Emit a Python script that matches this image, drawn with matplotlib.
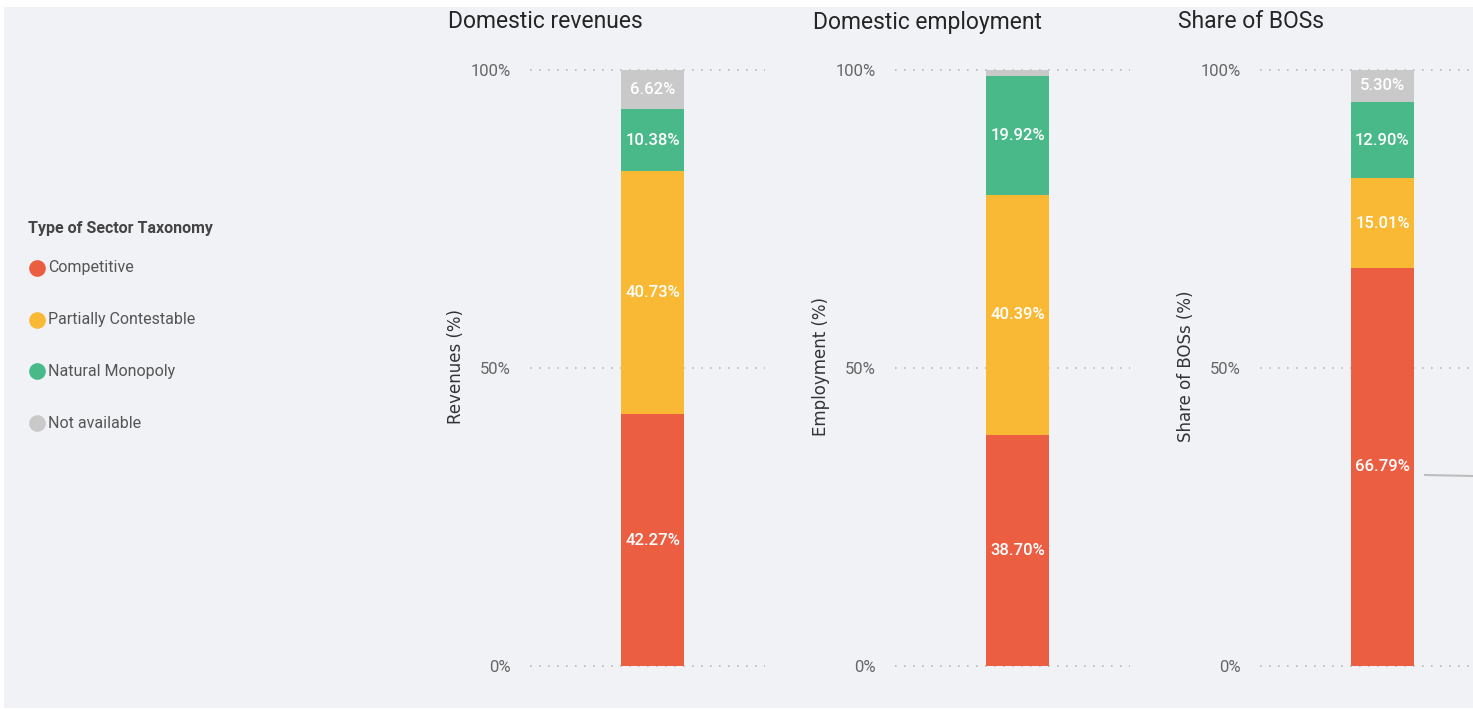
import numpy as np
import matplotlib.pyplot as plt
from matplotlib.patches import Rectangle

# categories of the sector taxonomy (bottom to top in each bar)
categories = ['Competitive', 'Partially Contestable', 'Natural Monopoly', 'Not available']
colors = ['#EB5E42', '#F9B935', '#4AB98A', '#C9C9C9']

# shares (%) per indicator
revenues = [42.27, 40.73, 10.38, 6.62]
employment = [38.70, 40.39, 19.92, 0.99]
bos_share = [66.79, 15.01, 12.90, 5.30]

panel_titles = ['Domestic revenues', 'Domestic employment', 'Share of BOSs']
y_labels = ['Revenues (%)', 'Employment (%)', 'Share of BOSs (%)']
tick_labels = ['0%', '50%', '100%']

cond = ['Roboto', 'DejaVu Sans']
bg = '#F0F2F6'

W, H = 1473, 710
fig = plt.figure(figsize=(W / 100, H / 100), dpi=100, facecolor='white')
fig.patches.append(Rectangle((4 / W, 2 / H), 1 - 4 / W, (H - 9) / H,
                             transform=fig.transFigure, facecolor=bg,
                             edgecolor='none', zorder=-10))

def px(x0, y0, w, h):
    # pixel box (top-left origin) -> figure fraction
    return [x0 / W, 1 - (y0 + h) / H, w / W, h / H]

lefts = [530, 895, 1260]
data = [revenues, employment, bos_share]

for left, vals, title, ylab in zip(lefts, data, panel_titles, y_labels):
    ax = fig.add_axes(px(left, 70, 235, 596))
    ax.set_facecolor('none')
    ax.set_xlim(0, 1)
    ax.set_ylim(0, 100)
    for s in ax.spines.values():
        s.set_visible(False)
    for gy in [0, 50, 100]:
        ax.axhline(gy, color='#B8B8B8', lw=1.2, ls=(0, (1, 4.4)), zorder=0,
                   clip_on=False)
    ax.set_yticks([0, 50, 100])
    ax.set_yticklabels(tick_labels, family=cond, fontsize=12, color='#666666')
    ax.tick_params(axis='y', length=0, pad=14)
    ax.set_xticks([])

    bottom = 0
    xc = 122.5 / 235
    for v, c in zip(vals, colors):
        ax.bar(xc, v, width=63 / 235, bottom=bottom, color=c, zorder=2)
        if v > 3:
            ax.text(xc, bottom + v / 2, f'{v:.2f}%', ha='center', va='center',
                    color='white', fontsize=12, family=cond, fontweight='medium',
                    zorder=3)
        bottom += v

    fig.text((left - 82) / W, 1 - 22 / H, title, ha='left', va='center',
             fontsize=16.5, family=cond, color='#252525')
    fig.text((left - 74) / W, 1 - 366 / H, ylab, rotation=90, ha='center',
             va='center', fontsize=12, color='#333333')

# small leader line at the right edge of the last panel
fig.add_artist(plt.Line2D([1425 / W, 1473 / W], [1 - 475 / H, 1 - 476 / H],
                          color='#BDBDBD', lw=1.5))

# legend
fig.text(28 / W, 1 - 229 / H, 'Type of Sector Taxonomy', ha='left', va='center',
         fontsize=11.5, family=cond, fontweight='bold', color='#444444')
for i, (name, c) in enumerate(zip(categories, colors)):
    y = 268 + i * 51.7
    fig.add_artist(plt.Line2D([37 / W], [1 - y / H], marker='o', markersize=12,
                              color=c, markeredgewidth=0))
    fig.text(48 / W, 1 - y / H, name, ha='left', va='center', fontsize=11.5,
             family=cond, color='#555555')

fig.savefig('out.png', dpi=100, facecolor='white')
